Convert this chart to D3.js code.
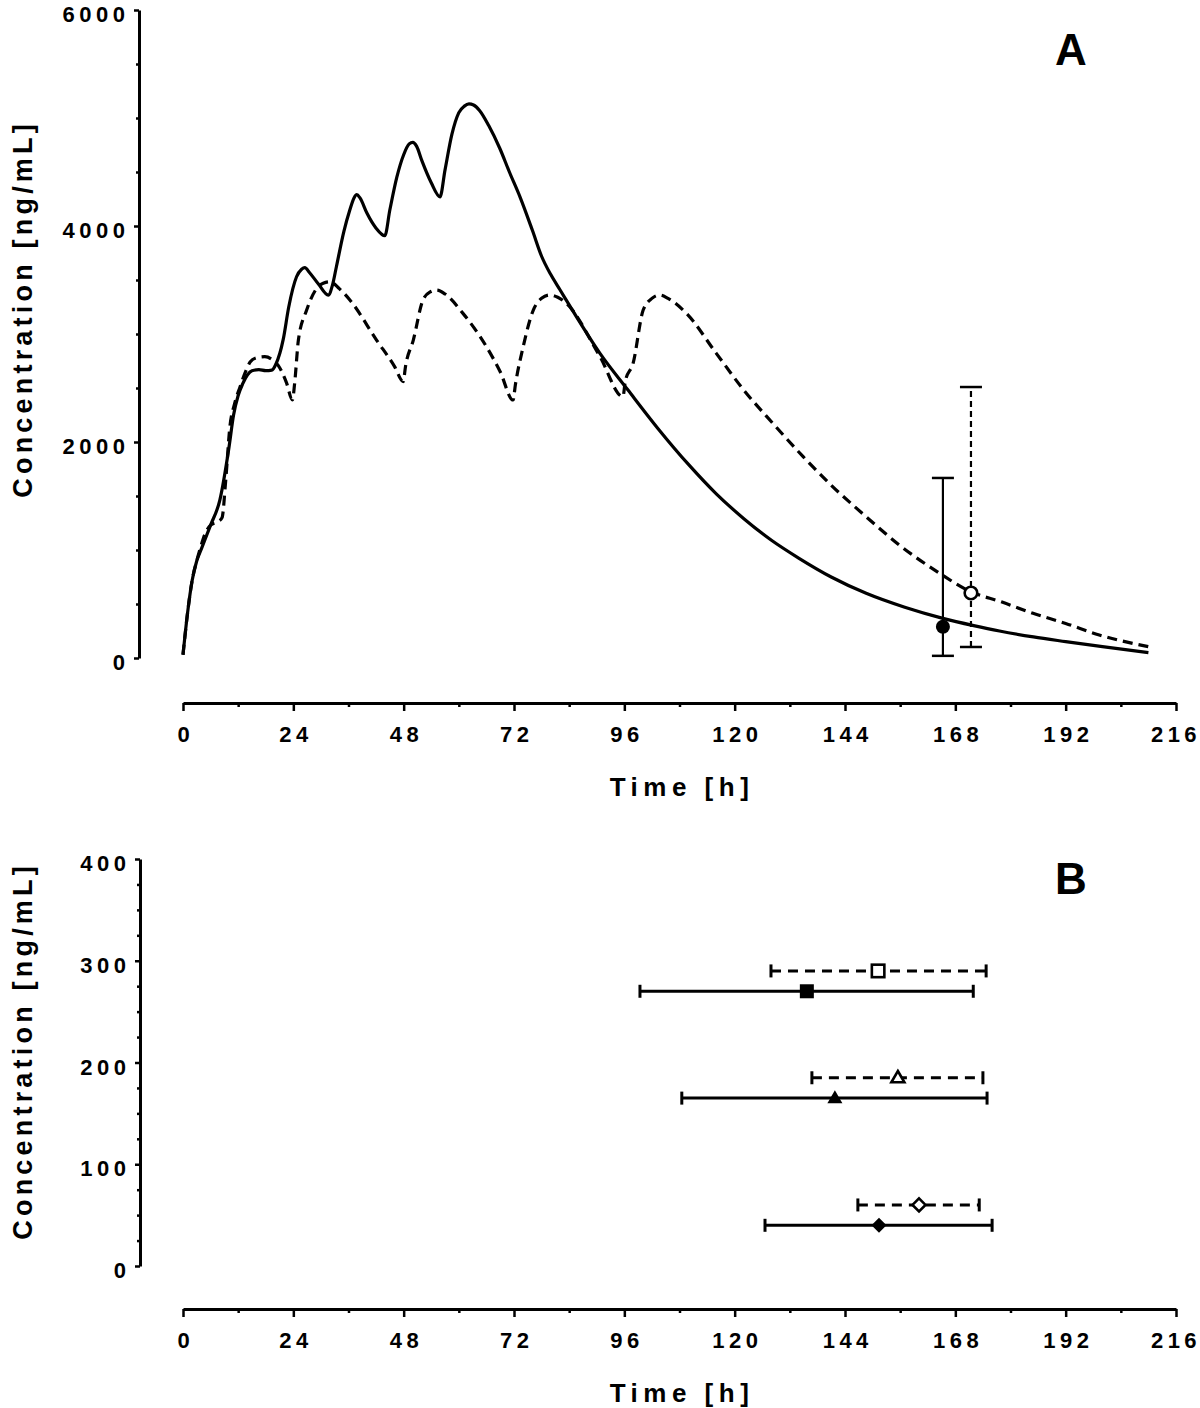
<!DOCTYPE html>
<html><head><meta charset="utf-8">
<script src="https://cdn.jsdelivr.net/npm/d3@7"></script>
<style>body{margin:0;background:#fff}svg{display:block}</style>
</head><body>
<svg id="c" width="1200" height="1408"></svg>
<script>
// ---- Panel A data ----
const solidTime = [0,1,2,3,4,6,8,10,11,12,13,14,15,16.5,18,19.3,20.2,21.8,23,24.7,25.8,26.5,27.5,29.5,31.6,32.5,33.4,35,36.3,37.2,37.8,38.5,40,42,43.9,45,46.5,48,49.2,50,50.8,52,54,55.9,57,58.5,60,61.2,62.2,63.2,64.5,66.5,68.9,71,73.3,76,78,80,82,85,90.7,96.8,103.3,110,116,122,128,134,141,148.6,157,165.3,172,177.6,185,192,200,210];
const solidConc = [30,420,720,900,1010,1230,1460,1950,2250,2430,2540,2620,2660,2670,2660,2665,2720,2950,3250,3530,3600,3615,3570,3460,3360,3450,3630,3950,4150,4260,4290,4260,4120,3980,3910,4150,4450,4660,4760,4775,4740,4600,4400,4270,4520,4850,5050,5110,5130,5120,5070,4930,4720,4500,4270,3960,3720,3550,3410,3200,2821,2481,2126,1790,1520,1290,1090,923,750,599,470,367,300,250,195,152,105,50];
const dashedTime = [0,1,2,3,4,4.8,6,7.7,8.5,9.3,10.2,11.2,12.4,13.5,14.6,16,17.8,19.5,20.7,22.5,23.8,24.3,25.1,26.9,29.1,30.5,32,34,36.3,42.1,46,47.9,48.4,50.1,52.2,53.8,55.2,57,60.9,66,69,71.8,72.3,74,76.2,78,79.8,81.5,83.4,90.7,95.7,96.2,97.9,100.1,102,103.7,105.5,109.5,116,122,128.3,134.9,141,148.6,156,164.6,171,178,184.9,192,199.3,210];
const dashedConc = [30,420,720,900,1050,1150,1230,1265,1300,1650,2142,2350,2510,2640,2740,2780,2790,2760,2710,2550,2390,2550,2944,3222,3423,3470,3484,3420,3315,2944,2700,2559,2700,2944,3315,3390,3407,3370,3191,2883,2650,2389,2530,2883,3222,3330,3361,3340,3284,2790,2420,2560,2728,3222,3330,3361,3330,3191,2821,2480,2173,1864,1600,1308,1040,784,620,520,414,320,213,105];
// observed points (time, mean, low, high)
const obsTime = [165.3, 171.4];
const obsMean = [290, 602];
const obsLow  = [20, 102];
const obsHigh = [1667, 2509];
const obsFilled = [true, false];

// ---- Panel B data ----
const bConc   = [270, 290, 165, 185, 40, 60];
const bMean   = [135.7, 151.2, 141.8, 155.5, 151.4, 160.1];
const bLow    = [99.4, 127.9, 108.5, 136.8, 126.6, 146.8];
const bHigh   = [171.9, 174.7, 174.9, 174.0, 176.0, 173.2];
const bShape  = ["square","square","triangle","triangle","diamond","diamond"];
const bFilled = [true, false, true, false, true, false];

// ---- ticks ----
const xMajor = [0,24,48,72,96,120,144,168,192,216];
const xMinor = [12,36,60,84,108,132,156,180,204];
const yAMajor = [0,2000,4000,6000];
const yAMinor = [500,1000,1500,2500,3000,3500,4500,5000,5500];
const yBMajor = [0,100,200,300,400];
const yBMinor = [25,50,75,125,150,175,225,250,275,325,350,375];

const FONT = "'Liberation Sans', Arial, Helvetica, sans-serif";
const svg = d3.select('#c');
const x = d3.scaleLinear().domain([0,216]).range([183,1176]);
const yA = d3.scaleLinear().domain([0,6000]).range([658,10]);
const yB = d3.scaleLinear().domain([0,400]).range([1266,859]);

function axes(y, major, minor, axisX, axisY, panel, panelBase, titleC) {
  const gx = svg.append('g').attr('transform', `translate(0,${axisY})`);
  gx.call(d3.axisBottom(x).tickValues(xMajor).tickSize(8).tickSizeOuter(0));
  const gxm = svg.append('g').attr('transform', `translate(0,${axisY})`);
  gxm.call(d3.axisBottom(x).tickValues(xMinor).tickSize(4).tickSizeOuter(0).tickFormat(''));
  gxm.select('.domain').remove();
  const gy = svg.append('g').attr('transform', `translate(${axisX},0)`);
  gy.call(d3.axisLeft(y).tickValues(major).tickSize(5).tickSizeOuter(0).tickFormat(d3.format('d')));
  const gym = svg.append('g').attr('transform', `translate(${axisX},0)`);
  gym.call(d3.axisLeft(y).tickValues(minor).tickSize(3).tickSizeOuter(0).tickFormat(''));
  gym.select('.domain').remove();
  [gx, gxm, gy, gym].forEach(g => {
    g.select('.domain').attr('stroke-width', 3).attr('stroke', '#000');
    g.selectAll('.tick line').attr('stroke-width', 2.5).attr('stroke', '#000');
  });
  gx.selectAll('.tick text').attr('y', 39).attr('dy', null)
    .attr('dx', d => d === 216 ? -0.5 : 2.25)
    .style('font-family', FONT).style('font-weight', 'bold').style('font-size', '22px')
    .style('letter-spacing', '4.5px').attr('fill', '#000');
  gy.selectAll('.tick text').attr('x', -9.5).attr('y', 11.5).attr('dy', null)
    .style('font-family', FONT).style('font-weight', 'bold').style('font-size', '22px')
    .style('letter-spacing', '4.5px').attr('fill', '#000');
  svg.append('text').attr('x', 682).attr('y', axisY + 93).attr('text-anchor', 'middle')
    .style('font-family', FONT).style('font-weight', 'bold').style('font-size', '26px')
    .style('letter-spacing', '5.5px').text('Time [h]');
  svg.append('text').attr('transform', `translate(32,${titleC}) rotate(-90)`).attr('text-anchor', 'middle')
    .attr('dx', 2.1)
    .style('font-family', FONT).style('font-weight', 'bold').style('font-size', '27px')
    .style('letter-spacing', '4.2px').text('Concentration [ng/mL]');
  svg.append('text').attr('x', 1071).attr('y', panelBase).attr('text-anchor', 'middle')
    .style('font-family', FONT).style('font-weight', 'bold').style('font-size', '44px').text(panel);
}

axes(yA, yAMajor, yAMinor, 139, 703, 'A', 65, 311);
axes(yB, yBMajor, yBMinor, 140, 1309, 'B', 894, 1053);

// ---- Panel A curves ----
const lineA = d3.line().x(d => x(d[0])).y(d => yA(d[1])).curve(d3.curveMonotoneX);
svg.append('path').datum(dashedTime.map((t,i) => [t, dashedConc[i]]))
  .attr('d', lineA).attr('fill', 'none').attr('stroke', '#000').attr('stroke-width', 3.2)
  .attr('stroke-dasharray', '10,6');
svg.append('path').datum(solidTime.map((t,i) => [t, solidConc[i]]))
  .attr('d', lineA).attr('fill', 'none').attr('stroke', '#000').attr('stroke-width', 3.2);

obsTime.forEach((t, i) => {
  const g = svg.append('g');
  g.append('line').attr('x1', x(t)).attr('x2', x(t)).attr('y1', yA(obsLow[i])).attr('y2', yA(obsHigh[i]))
    .attr('stroke', '#000').attr('stroke-width', 2.2)
    .attr('stroke-dasharray', obsFilled[i] ? null : '6,4');
  [obsLow[i], obsHigh[i]].forEach(v => {
    g.append('line').attr('x1', x(t) - 11).attr('x2', x(t) + 11).attr('y1', yA(v)).attr('y2', yA(v))
      .attr('stroke', '#000').attr('stroke-width', 2.5);
  });
  if (obsFilled[i]) {
    g.append('circle').attr('cx', x(t)).attr('cy', yA(obsMean[i])).attr('r', 7).attr('fill', '#000');
  } else {
    g.append('circle').attr('cx', x(t)).attr('cy', yA(obsMean[i])).attr('r', 6.3)
      .attr('fill', '#fff').attr('stroke', '#000').attr('stroke-width', 2.6);
  }
});

// ---- Panel B ----
bConc.forEach((c, i) => {
  const g = svg.append('g');
  const cy = yB(c);
  g.append('line').attr('x1', x(bLow[i])).attr('x2', x(bHigh[i])).attr('y1', cy).attr('y2', cy)
    .attr('stroke', '#000').attr('stroke-width', 3)
    .attr('stroke-dasharray', bFilled[i] ? null : '10,7');
  [bLow[i], bHigh[i]].forEach(v => {
    g.append('line').attr('x1', x(v)).attr('x2', x(v)).attr('y1', cy - 6.5).attr('y2', cy + 6.5)
      .attr('stroke', '#000').attr('stroke-width', 3);
  });
  const cx = x(bMean[i]);
  const fill = bFilled[i] ? '#000' : '#fff';
  const sw = bFilled[i] ? 0 : 2.6;
  let shape;
  if (bShape[i] === 'square') {
    const s = bFilled[i] ? 14 : 12.5;
    shape = g.append('rect').attr('x', cx - s/2).attr('y', cy - s/2).attr('width', s).attr('height', s);
  } else if (bShape[i] === 'triangle') {
    const s = bFilled[i] ? 15 : 13;
    const h = s * Math.sqrt(3) / 2;
    shape = g.append('path').attr('d', `M${cx},${cy - h*0.6}L${cx + s/2},${cy + h*0.4}L${cx - s/2},${cy + h*0.4}Z`);
  } else {
    const r = bFilled[i] ? 7.5 : 6.5;
    shape = g.append('path').attr('d', `M${cx},${cy - r}L${cx + r},${cy}L${cx},${cy + r}L${cx - r},${cy}Z`);
  }
  shape.attr('fill', fill).attr('stroke', '#000').attr('stroke-width', sw).attr('stroke-linejoin', 'miter');
});
</script>
</body></html>
